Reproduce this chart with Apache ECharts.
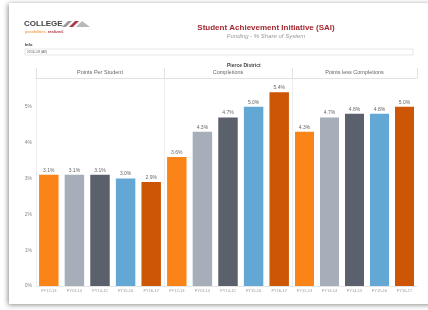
<!DOCTYPE html>
<html>
<head>
<meta charset="utf-8">
<script src="https://cdn.jsdelivr.net/npm/echarts@6/dist/echarts.min.js"></script>
<style>
  html, body { margin: 0; padding: 0; background: #fff; }
  #chart { width: 428px; height: 310px; filter: blur(0.35px); }
</style>
</head>
<body>
<div id="chart"></div>
<script>
// fiscal years shown under each bar
const years = ['FY12-13', 'FY13-14', 'FY14-15', 'FY15-16', 'FY16-17']
const panels = ['Points Per Student', 'Completions', 'Points less Completions']
// % share of system, one list per panel
const pointsPerStudent = [3.1, 3.1, 3.1, 3.0, 2.9]
const completions = [3.6, 4.3, 4.7, 5.0, 5.4]
const pointsLessCompletions = [4.3, 4.7, 4.8, 4.8, 5.0]
const yTicks = [0, 1, 2, 3, 4, 5]

const barColors = ['#fb8418', '#a5aeb9', '#5a616c', '#63a7d5', '#cc5506']
const allValues = [pointsPerStudent, completions, pointsLessCompletions]

const chart = echarts.init(document.getElementById('chart'))

const grids = [
  { left: 36, width: 128 },
  { left: 164, width: 128 },
  { left: 292, width: 125 }
].map(g => ({ ...g, top: 78, height: 208 }))

const xAxes = []
const yAxes = []
const series = []
panels.forEach((name, i) => {
  // bottom axis with the years
  xAxes.push({
    type: 'category',
    gridIndex: i,
    data: years,
    axisLine: { lineStyle: { color: '#e6e6e6' } },
    axisTick: { show: false },
    axisLabel: { fontSize: 4, color: '#999', margin: 3 }
  })
  // top axis used as the panel header
  xAxes.push({
    type: 'category',
    gridIndex: i,
    position: 'top',
    data: [name],
    axisLine: { lineStyle: { color: '#e2e2e2' } },
    axisTick: { show: true, length: 10, lineStyle: { color: '#e2e2e2' } },
    axisLabel: { fontSize: 5.5, color: '#666', margin: 2.5 }
  })
  yAxes.push({
    type: 'value',
    gridIndex: i,
    min: yTicks[0],
    max: 5.8,
    interval: 1,
    axisLine: { show: true, lineStyle: { color: '#eeeeee' } },
    axisTick: { show: false },
    splitLine: { show: false },
    axisLabel: {
      show: i === 0,
      showMaxLabel: false,
      fontSize: 5,
      color: '#888',
      margin: 4,
      formatter: v => v + '%'
    }
  })
  series.push({
    type: 'bar',
    xAxisIndex: i * 2,
    yAxisIndex: i,
    barWidth: '76%',
    data: allValues[i].map((v, k) => ({
      value: v,
      itemStyle: { color: barColors[k] }
    })),
    label: {
      show: true,
      position: 'top',
      distance: 2,
      fontSize: 5,
      color: '#666',
      formatter: p => p.value.toFixed(1) + '%'
    }
  })
})

const option = {
  animation: false,
  backgroundColor: '#ffffff',
  graphic: [
    // page sheet with its shadow
    {
      type: 'rect',
      z: -10,
      shape: { x: 9, y: 3, width: 430, height: 301 },
      style: {
        fill: '#fff',
        shadowBlur: 5,
        shadowColor: 'rgba(0,0,0,0.45)',
        shadowOffsetX: -1,
        shadowOffsetY: 1
      }
    },
    // logo
    {
      type: 'text',
      left: 24,
      top: 20,
      style: { text: 'COLLEGE', font: 'bold 8px "Liberation Sans", Arial', fill: '#444' }
    },
    {
      type: 'polygon',
      shape: { points: [[62, 27], [68, 21], [72, 21], [66, 27]] },
      style: { fill: '#9a9a9a' }
    },
    {
      type: 'polygon',
      shape: { points: [[69, 27], [75, 21], [79, 21], [73, 27]] },
      style: { fill: '#b13a48' }
    },
    {
      type: 'polygon',
      shape: { points: [[76, 27], [82, 21], [90, 27]] },
      style: { fill: '#b9b9b9' }
    },
    {
      type: 'text',
      left: 25,
      top: 30,
      style: {
        text: 'possibilities. {r|realized.}',
        font: '4px "Liberation Sans", Arial',
        fill: '#f08a24',
        rich: { r: { fontSize: 4, fontWeight: 'bold', fill: '#b13a48' } }
      }
    },
    // info filter
    {
      type: 'text',
      left: 25,
      top: 43,
      style: { text: 'Info', font: 'bold 4px "Liberation Sans", Arial', fill: '#333' }
    },
    {
      type: 'rect',
      shape: { x: 25, y: 49, width: 388, height: 6 },
      style: { fill: '#fff', stroke: '#d8d8d8', lineWidth: 0.6 }
    },
    {
      type: 'text',
      left: 27,
      top: 50,
      style: { text: '2016-18 (All)', font: '3.5px "Liberation Sans", Arial', fill: '#666' }
    },
    {
      type: 'text',
      left: 227,
      top: 63,
      style: {
        text: 'Pierce District',
        font: 'bold 5px "Liberation Sans", Arial',
        fill: '#444',
        textAlign: 'center'
      }
    }
  ],
  title: [
    {
      text: 'Student Achievement Initiative (SAI)',
      subtext: 'Funding - % Share of System',
      left: 261,
      top: 19,
      textAlign: 'center',
      itemGap: 1,
      textStyle: { fontSize: 8, fontWeight: 'bold', color: '#a3272f', fontFamily: 'Liberation Sans' },
      subtextStyle: { fontSize: 6, fontStyle: 'italic', color: '#999', fontFamily: 'Liberation Sans' }
    }
  ],
  grid: grids,
  xAxis: xAxes,
  yAxis: yAxes,
  series: series
}

chart.setOption(option)
</script>
</body>
</html>
